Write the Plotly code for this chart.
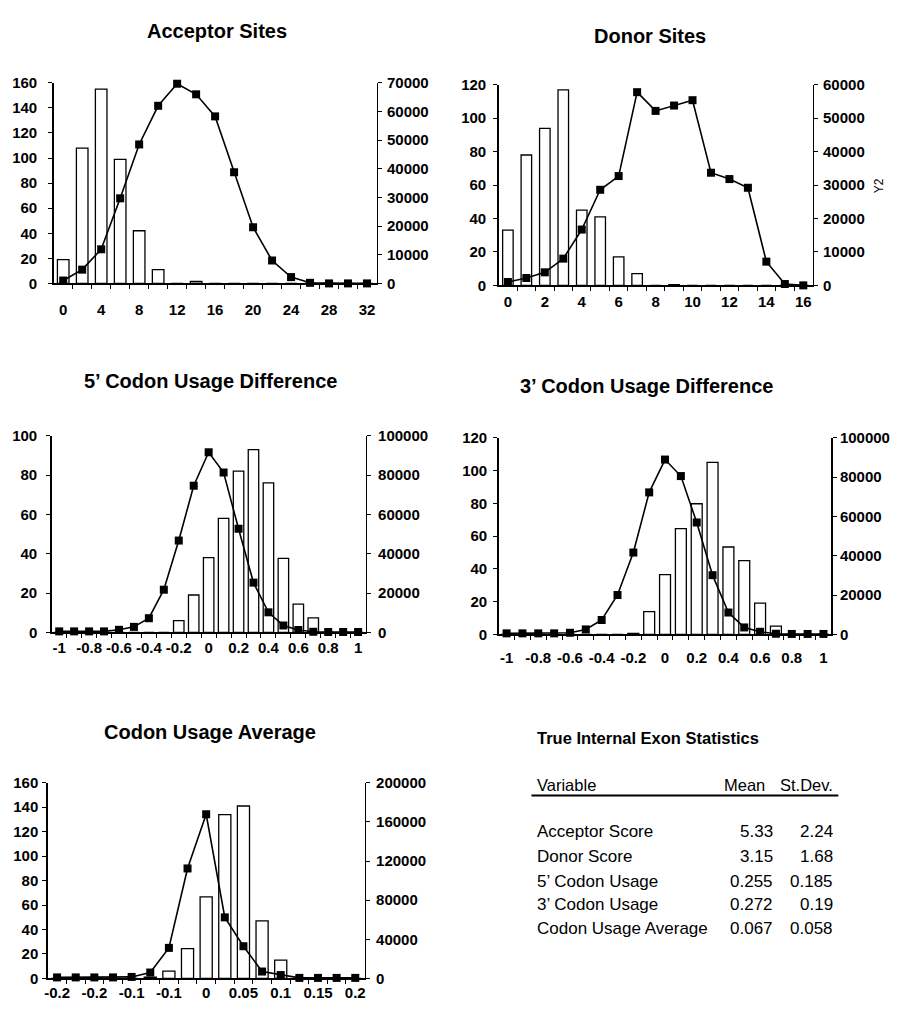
import plotly.graph_objects as go

FONT = "Liberation Sans"
PAGE_W, PAGE_H = 898, 1017
BODY = 8  # default browser body margin
W, H = PAGE_W - 2 * BODY, PAGE_H - 2 * BODY

# ---------------- data ----------------
acc_x = [0, 2, 4, 6, 8, 10, 12, 14, 16, 18, 20, 22, 24, 26, 28, 30, 32]
acc_bars = [19, 108, 155, 99, 42, 11, 0, 1.5, 0, 0, 0, 0, 0, 0, 0, 0, 0]
acc_line = [1000, 4800, 11900, 29700, 48500, 62000, 69700, 66000, 58300,
            38800, 19600, 8000, 2200, 200, 0, 0, 0]
acc_ticks = [0, 4, 8, 12, 16, 20, 24, 28, 32]
acc_ticktext = ["0", "4", "8", "12", "16", "20", "24", "28", "32"]

don_x = [0, 1, 2, 3, 4, 5, 6, 7, 8, 9, 10, 11, 12, 13, 14, 15, 16]
don_bars = [33, 78, 94, 117, 45, 41, 17, 7, 0, 0.5, 0, 0, 0, 0, 0, 0, 0]
don_line = [1000, 2200, 3900, 8000, 16700, 28600, 32700, 57800, 52200,
            53800, 55400, 33700, 31800, 29200, 7100, 400, 0]
don_ticks = [0, 2, 4, 6, 8, 10, 12, 14, 16]
don_ticktext = ["0", "2", "4", "6", "8", "10", "12", "14", "16"]

c5_x = [-1.0, -0.9, -0.8, -0.7, -0.6, -0.5, -0.4, -0.3, -0.2, -0.1, 0.0,
        0.1, 0.2, 0.3, 0.4, 0.5, 0.6, 0.7, 0.8, 0.9, 1.0]
c5_bars = [0, 0, 0, 0, 0, 0, 0, 0, 6, 19, 38, 58, 82, 93, 76, 37.6, 14.4,
           7.4, 0, 0, 0]
c5_line = [500, 500, 500, 500, 1300, 2800, 7200, 21700, 46700, 74600, 91600,
           81300, 52700, 25300, 10200, 3500, 1200, 300, 200, 200, 200]

c3_x = [-1.0, -0.9, -0.8, -0.7, -0.6, -0.5, -0.4, -0.3, -0.2, -0.1, 0.0,
        0.1, 0.2, 0.3, 0.4, 0.5, 0.6, 0.7, 0.8, 0.9, 1.0]
c3_bars = [0, 0, 0, 0, 0, 0, 0, 0, 0.5, 13.8, 36.5, 64.5, 79.7, 105, 53.3,
           45, 19, 5, 0, 0, 0]
c3_line = [500, 500, 500, 500, 800, 2500, 7300, 20000, 41600, 72200, 88900,
           80500, 56900, 30100, 11100, 3500, 1300, 300, 200, 200, 200]

cd_ticks = [-1.0, -0.8, -0.6, -0.4, -0.2, 0.0, 0.2, 0.4, 0.6, 0.8, 1.0]
cd_ticktext = ["-1", "-0.8", "-0.6", "-0.4", "-0.2", "0", "0.2", "0.4",
               "0.6", "0.8", "1"]

avg_x = [-0.2, -0.175, -0.15, -0.125, -0.1, -0.075, -0.05, -0.025, 0.0,
         0.025, 0.05, 0.075, 0.1, 0.125, 0.15, 0.175, 0.2]
avg_bars = [0, 0, 0, 0, 0, 1, 6, 24.4, 66.6, 134, 141, 47, 15, 0, 0, 0, 0]
avg_line = [1000, 1000, 1000, 1000, 1500, 6000, 31200, 112400, 167800,
            62400, 32900, 7000, 3400, 500, 500, 500, 500]
avg_ticks = [-0.2, -0.15, -0.1, -0.05, 0.0, 0.05, 0.1, 0.15, 0.2]
avg_ticktext = ["-0.2", "-0.2", "-0.1", "-0.1", "0", "0.05", "0.1", "0.15",
                "0.2"]

tbl_title = "True Internal Exon Statistics"
tbl_header = ["Variable", "Mean", "St.Dev."]
tbl_vars = ["Acceptor Score", "Donor Score", "5\u2019 Codon Usage",
            "3\u2019 Codon Usage", "Codon Usage Average"]
tbl_mean = [5.33, 3.15, 0.255, 0.272, 0.067]
tbl_sd = [2.24, 1.68, 0.185, 0.19, 0.058]

# ---------------- layout config (page pixel coordinates) ----------------
panels = [
    dict(title="Acceptor Sites", x=acc_x, bars=acc_bars, line=acc_line,
         ticks=acc_ticks, ticktext=acc_ticktext, step=2,
         y1=(160, 20), y2=(70000, 10000),
         box=(50, 375, 75, 279), frac=0.61, xs=12, ls=8, rs=2,
         tpos=(214, 22)),
    dict(title="Donor Sites", x=don_x, bars=don_bars, line=don_line,
         ticks=don_ticks, ticktext=don_ticktext, step=1,
         y1=(120, 20), y2=(60000, 10000),
         box=(498, 814, 77, 281), frac=0.57, xs=2, ls=4, rs=2,
         tpos=(650, 27), y2title="Y2"),
    dict(title="5\u2019 Codon Usage Difference", x=c5_x, bars=c5_bars,
         line=c5_line, ticks=cd_ticks, ticktext=cd_ticktext, step=0.1,
         y1=(100, 20), y2=(100000, 20000),
         box=(48, 364, 434, 634), frac=0.70, xs=1, ls=6, rs=4,
         tpos=(208, 378)),
    dict(title="3\u2019 Codon Usage Difference", x=c3_x, bars=c3_bars,
         line=c3_line, ticks=cd_ticks, ticktext=cd_ticktext, step=0.1,
         y1=(120, 20), y2=(100000, 20000),
         box=(498, 833, 436, 636), frac=0.69, xs=9, ls=3, rs=0,
         tpos=(647, 383)),
    dict(title="Codon Usage Average", x=avg_x, bars=avg_bars, line=avg_line,
         ticks=avg_ticks, ticktext=avg_ticktext, step=0.025,
         y1=(160, 20), y2=(200000, 40000),
         box=(44, 363, 787, 986), frac=0.65, xs=0, ls=1, rs=3,
         tpos=(207, 735)),
]

tickfont = dict(family=FONT, size=15, color="black", weight="bold")


def px(xp):
    return (xp - BODY) / W


def py(yp):
    return 1 - (yp - BODY) / H


fig = go.Figure()
layout = dict(
    width=W, height=H, autosize=False,
    margin=dict(l=0, r=0, t=0, b=0),
    paper_bgcolor="white", plot_bgcolor="white",
    showlegend=False, font=dict(family=FONT, color="black"),
    annotations=[], shapes=[],
)

for i, p in enumerate(panels, start=1):
    xa = "x" if i == 1 else f"x{i}"
    yl_n, yr_n = 2 * i - 1, 2 * i
    yl = "y" if yl_n == 1 else f"y{yl_n}"
    yr = f"y{yr_n}"
    x0, x1, ytop, ybot = p["box"]
    step = p["step"]
    xs = p["x"]

    fig.add_trace(go.Bar(
        x=xs, y=p["bars"], xaxis=xa, yaxis=yl, width=p["frac"] * step,
        marker=dict(color="white", line=dict(color="black", width=1.3)),
    ))
    fig.add_trace(go.Scatter(
        x=xs, y=p["line"], xaxis=xa, yaxis=yr, mode="lines+markers",
        line=dict(color="black", width=1.6),
        marker=dict(symbol="square", size=8, color="black"),
        cliponaxis=False,
    ))

    bounds = [xs[k] + step / 2 for k in range(len(xs) - 1)]
    layout["xaxis" if i == 1 else f"xaxis{i}"] = dict(
        domain=[px(x0), px(x1)], anchor=yl,
        range=[xs[0] - step / 2, xs[-1] + step / 2],
        tickmode="array", tickvals=p["ticks"], ticktext=p["ticktext"],
        ticks="", showline=True, linecolor="black", linewidth=1.5,
        showgrid=False, zeroline=False, tickfont=tickfont,
        ticklabelstandoff=p["xs"],
        minor=dict(tickmode="array", tickvals=bounds, ticks="outside",
                   ticklen=4, tickwidth=1, tickcolor="black",
                   showgrid=False),
        fixedrange=True,
    )
    ymax1, dt1 = p["y1"]
    ymax2, dt2 = p["y2"]
    layout["yaxis" if yl_n == 1 else f"yaxis{yl_n}"] = dict(
        domain=[py(ybot), py(ytop)], anchor=xa, range=[0, ymax1],
        tick0=0, dtick=dt1, ticks="outside", ticklen=4, tickwidth=1,
        tickcolor="black", showline=True, linecolor="black", linewidth=1.5,
        showgrid=False, zeroline=False, tickfont=tickfont,
        ticklabelstandoff=p["ls"], fixedrange=True,
    )
    layout[f"yaxis{yr_n}"] = dict(
        overlaying=yl, side="right", anchor=xa, range=[0, ymax2],
        tick0=0, dtick=dt2, ticks="outside", ticklen=4, tickwidth=1,
        tickcolor="black", showline=True, linecolor="black", linewidth=1.5,
        showgrid=False, zeroline=False, tickfont=tickfont, tickformat="d",
        ticklabelstandoff=p["rs"], fixedrange=True,
    )

    tx, ty = p["tpos"]
    layout["annotations"].append(dict(
        text=p["title"], x=px(tx), y=py(ty), xref="paper", yref="paper",
        xanchor="center", yanchor="middle", showarrow=False,
        font=dict(family=FONT, size=20, color="black", weight="bold"),
    ))
    if p.get("y2title"):
        layout["annotations"].append(dict(
            text=p["y2title"], x=px(881), y=py(180), xref="paper",
            yref="paper", xanchor="center", yanchor="middle",
            showarrow=False, textangle=-90,
            font=dict(family=FONT, size=12, color="black"),
        ))

# ---------------- statistics table ----------------
ann = layout["annotations"]
ann.append(dict(text=tbl_title, x=px(535), y=py(741), xref="paper",
                yref="paper", xanchor="left", yanchor="middle",
                showarrow=False,
                font=dict(family=FONT, size=16.5, color="black",
                          weight="bold")))
hdr_font = dict(family=FONT, size=16.5, color="black")
ann.append(dict(text=tbl_header[0], x=px(535), y=py(789), xref="paper",
                yref="paper", xanchor="left", yanchor="middle",
                showarrow=False, font=hdr_font))
ann.append(dict(text=tbl_header[1], x=px(768), y=py(789), xref="paper",
                yref="paper", xanchor="right", yanchor="middle",
                showarrow=False, font=hdr_font))
ann.append(dict(text=tbl_header[2], x=px(837), y=py(789), xref="paper",
                yref="paper", xanchor="right", yanchor="middle",
                showarrow=False, font=hdr_font))
layout["shapes"].append(dict(type="line", xref="paper", yref="paper",
                             x0=px(531), x1=px(840), y0=py(800), y1=py(800),
                             line=dict(color="black", width=2)))
row_y = [837, 862, 887, 911, 935]
row_font = dict(family=FONT, size=17, color="black")
for k in range(len(tbl_vars)):
    ann.append(dict(text=tbl_vars[k], x=px(535), y=py(row_y[k]),
                    xref="paper", yref="paper", xanchor="left",
                    yanchor="middle", showarrow=False, font=row_font))
    ann.append(dict(text=str(tbl_mean[k]), x=px(776), y=py(row_y[k]),
                    xref="paper", yref="paper", xanchor="right",
                    yanchor="middle", showarrow=False, font=row_font))
    ann.append(dict(text=str(tbl_sd[k]), x=px(837), y=py(row_y[k]),
                    xref="paper", yref="paper", xanchor="right",
                    yanchor="middle", showarrow=False, font=row_font))

fig.update_layout(**layout)
fig.write_html("out.html", include_plotlyjs=True,
               config={"displayModeBar": False, "staticPlot": True})
